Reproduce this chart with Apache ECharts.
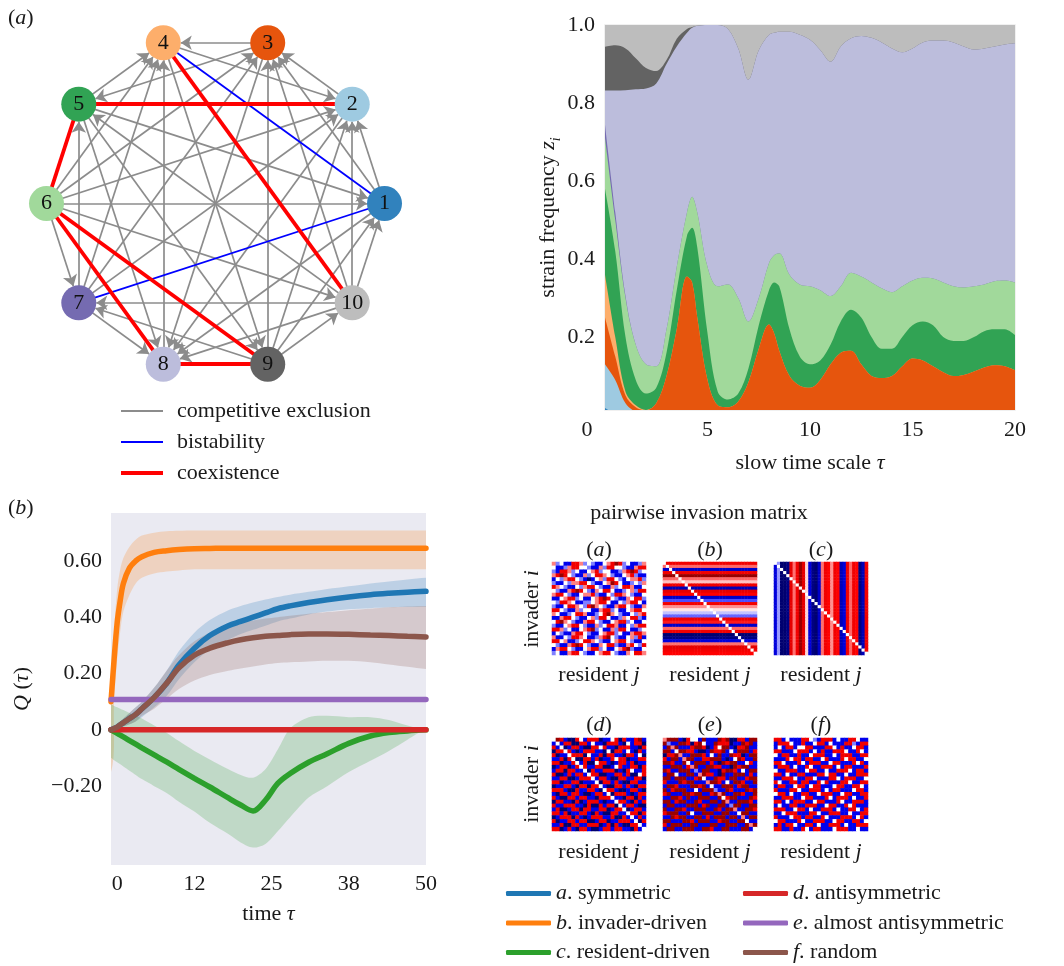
<!DOCTYPE html>
<html>
<head>
<meta charset="utf-8">
<title>Strain competition figure</title>
<script src="https://cdn.jsdelivr.net/npm/echarts@6.0.0/dist/echarts.min.js"></script>
<style>
html,body{margin:0;padding:0;background:#ffffff;}
#chart{width:1064px;height:966px;}
</style>
</head>
<body>
<div id="chart"></div>
<script>
// ================= DATA =================
// ---- panel (a) left: pairwise outcome network ----
const strainNames = ['1','2','3','4','5','6','7','8','9','10'];
const strainColors = ['#3182bd','#9ecae1','#e6550d','#fdae6b','#31a354','#a1d99b','#756bb1','#bcbddc','#636363','#bdbdbd'];
// competitive exclusion: [source, target], arrow head drawn at target
const exclusionEdges = [
  [1,2],[1,3],[5,1],[6,1],[1,8],[9,1],[10,1],
  [2,3],[4,2],[6,2],[7,2],[2,8],[9,2],[10,2],
  [3,4],[3,5],[6,3],[7,3],[3,8],[9,3],[10,3],
  [5,4],[6,4],[7,4],[8,4],[4,9],
  [7,5],[5,8],[5,9],[10,5],
  [6,10],[6,7],
  [7,8],[9,7],[10,7],
  [10,8],
  [9,10]
];
const bistabilityEdges = [[4,1],[7,1]];
const coexistenceEdges = [[5,2],[5,6],[4,10],[6,8],[6,9],[8,9]];
const networkLegend = ['competitive exclusion','bistability','coexistence'];

// ---- panel (a) right: strain frequencies, upper edge of each stacked band ----
const tauA = [0,0.5,1,1.5,2,2.5,3,3.5,4,4.25,4.5,5,5.5,6,6.5,7,7.5,8,8.25,8.5,9,9.5,10,10.5,11,11.5,12,12.5,13,13.5,14,14.5,15,15.5,16,16.5,17,17.5,18,18.5,19,19.5,20];
const topStrain1 = [0.018,0.004,0,0,0,0,0,0,0,0,0,0,0,0,0,0,0,0,0,0,0,0,0,0,0,0,0,0,0,0,0,0,0,0,0,0,0,0,0,0,0,0,0];
const topStrain2 = [0.13,0.09,0.03,0.008,0,0,0,0,0,0,0,0,0,0,0,0,0,0,0,0,0,0,0,0,0,0,0,0,0,0,0,0,0,0,0,0,0,0,0,0,0,0,0];
const topStrain3 = [0.25,0.15,0.05,0.02,0.012,0.03,0.1,0.22,0.355,0.34,0.25,0.09,0.025,0.02,0.035,0.085,0.17,0.232,0.21,0.165,0.1,0.075,0.07,0.09,0.13,0.16,0.165,0.13,0.1,0.095,0.1,0.125,0.145,0.14,0.125,0.11,0.1,0.103,0.112,0.122,0.128,0.125,0.115];
const topStrain4 = [0.36,0.2,0.06,0.025,0.013,0.03,0.1,0.22,0.355,0.34,0.25,0.09,0.025,0.02,0.035,0.085,0.17,0.232,0.21,0.165,0.1,0.075,0.07,0.09,0.13,0.16,0.165,0.13,0.1,0.095,0.1,0.125,0.145,0.14,0.125,0.11,0.1,0.103,0.112,0.122,0.128,0.125,0.115];
const topStrain5 = [0.58,0.42,0.2,0.09,0.055,0.07,0.16,0.32,0.46,0.48,0.43,0.21,0.06,0.04,0.055,0.12,0.23,0.32,0.34,0.33,0.22,0.15,0.13,0.14,0.18,0.24,0.27,0.25,0.2,0.17,0.17,0.2,0.23,0.24,0.23,0.2,0.19,0.19,0.2,0.215,0.22,0.22,0.205];
const topStrain6 = [0.71,0.5,0.3,0.18,0.13,0.125,0.22,0.38,0.52,0.56,0.52,0.38,0.33,0.335,0.3,0.24,0.3,0.39,0.41,0.415,0.36,0.335,0.33,0.32,0.305,0.33,0.365,0.355,0.34,0.325,0.315,0.33,0.345,0.352,0.35,0.34,0.33,0.327,0.33,0.335,0.343,0.345,0.34];
const topStrain7 = [0.745,0.52,0.305,0.18,0.13,0.125,0.22,0.38,0.52,0.56,0.52,0.38,0.33,0.335,0.3,0.24,0.3,0.39,0.41,0.415,0.36,0.335,0.33,0.32,0.305,0.33,0.365,0.355,0.34,0.325,0.315,0.33,0.345,0.352,0.35,0.34,0.33,0.327,0.33,0.335,0.343,0.345,0.34];
const topStrain8 = [0.832,0.832,0.833,0.835,0.837,0.85,0.9,0.945,0.98,0.993,0.998,1,1,0.99,0.94,0.86,0.935,0.975,0.98,0.983,0.983,0.975,0.962,0.936,0.906,0.945,0.966,0.972,0.967,0.955,0.94,0.93,0.94,0.955,0.96,0.96,0.955,0.945,0.937,0.94,0.945,0.95,0.953];
const topStrain9 = [0.944,0.948,0.94,0.915,0.89,0.882,0.91,0.965,0.99,0.995,0.998,1,1,0.99,0.94,0.86,0.935,0.975,0.98,0.983,0.983,0.975,0.962,0.936,0.906,0.945,0.966,0.972,0.967,0.955,0.94,0.93,0.94,0.955,0.96,0.96,0.955,0.945,0.937,0.94,0.945,0.95,0.953];
const topStrain10 = [1,1,1,1,1,1,1,1,1,1,1,1,1,1,1,1,1,1,1,1,1,1,1,1,1,1,1,1,1,1,1,1,1,1,1,1,1,1,1,1,1,1,1];
const freqYTicks = [0.2,0.4,0.6,0.8,1.0];

// ---- panel (b) left: Q(tau), mean and band per matrix type ----
const tauB = [-1,-0.5,0,0.5,1,2,3,4,6,8,10,12.5,15,18,20,22,24,26,28,31,34,37.5,41,44,47,50];
const qSymmetric    = [0,0.005,0.01,0.018,0.025,0.04,0.055,0.075,0.115,0.165,0.23,0.29,0.335,0.37,0.385,0.4,0.415,0.43,0.44,0.452,0.462,0.472,0.48,0.485,0.489,0.492];
const qSymmetricHi  = [0.005,0.01,0.02,0.03,0.04,0.06,0.08,0.1,0.15,0.21,0.28,0.345,0.39,0.425,0.44,0.452,0.463,0.472,0.48,0.49,0.5,0.51,0.52,0.527,0.534,0.54];
const qSymmetricLo  = [0,0,0.005,0.008,0.012,0.02,0.03,0.045,0.08,0.12,0.18,0.24,0.285,0.32,0.34,0.355,0.37,0.385,0.395,0.41,0.42,0.428,0.432,0.435,0.436,0.437];
const qInvader      = [0.1,0.25,0.38,0.46,0.52,0.575,0.6,0.615,0.63,0.636,0.64,0.643,0.644,0.645,0.645,0.645,0.645,0.645,0.645,0.645,0.645,0.645,0.645,0.645,0.645,0.645];
const qInvaderHi    = [0.13,0.35,0.5,0.57,0.61,0.65,0.675,0.69,0.7,0.705,0.707,0.708,0.708,0.708,0.708,0.708,0.708,0.708,0.708,0.708,0.708,0.708,0.708,0.708,0.708,0.708];
const qInvaderLo    = [-0.15,0.1,0.25,0.35,0.42,0.48,0.52,0.54,0.555,0.562,0.566,0.57,0.57,0.57,0.57,0.57,0.57,0.57,0.57,0.57,0.57,0.57,0.57,0.57,0.57,0.57];
const qResident     = [0,-0.006,-0.013,-0.019,-0.025,-0.038,-0.051,-0.064,-0.089,-0.114,-0.14,-0.172,-0.203,-0.242,-0.267,-0.288,-0.25,-0.19,-0.155,-0.115,-0.085,-0.048,-0.022,-0.01,-0.004,0];
const qResidentHi   = [0.09,0.085,0.08,0.075,0.07,0.06,0.05,0.04,0.015,-0.01,-0.04,-0.075,-0.105,-0.14,-0.16,-0.17,-0.14,-0.07,0.005,0.045,0.05,0.045,0.045,0.035,0.015,0];
const qResidentLo   = [-0.1,-0.108,-0.115,-0.122,-0.13,-0.145,-0.16,-0.175,-0.2,-0.224,-0.255,-0.29,-0.33,-0.37,-0.4,-0.418,-0.405,-0.36,-0.31,-0.24,-0.2,-0.15,-0.11,-0.075,-0.035,0];
const qAntisym      = [0,0,0,0,0,0,0,0,0,0,0,0,0,0,0,0,0,0,0,0,0,0,0,0,0,0];
const qAlmostAnti   = [0.108,0.108,0.108,0.108,0.108,0.108,0.108,0.108,0.108,0.108,0.108,0.108,0.108,0.108,0.108,0.108,0.108,0.108,0.108,0.108,0.108,0.108,0.108,0.108,0.108,0.108];
const qRandom       = [0,0.005,0.01,0.018,0.025,0.04,0.055,0.075,0.115,0.165,0.22,0.265,0.29,0.31,0.32,0.327,0.332,0.335,0.338,0.34,0.34,0.339,0.337,0.335,0.332,0.33];
const qRandomHi     = [0.005,0.01,0.02,0.03,0.04,0.06,0.08,0.1,0.15,0.21,0.265,0.315,0.345,0.37,0.38,0.388,0.395,0.4,0.405,0.412,0.418,0.425,0.43,0.435,0.438,0.44];
const qRandomLo     = [0,0,0.005,0.008,0.012,0.02,0.03,0.05,0.075,0.11,0.145,0.175,0.195,0.21,0.218,0.225,0.232,0.237,0.24,0.243,0.245,0.245,0.24,0.232,0.224,0.216];
const qSeriesNames  = ['a. symmetric','b. invader-driven','c. resident-driven','d. antisymmetric','e. almost antisymmetric','f. random'];
const qColors       = ['#1f77b4','#ff7f0e','#2ca02c','#d62728','#9467bd','#8c564b'];
const qXTickValues  = [0,12.5,25,37.5,50];
const qXTickLabels  = ['0','12','25','38','50'];
const qYTickValues  = [-0.2,0,0.2,0.4,0.6];
const qYTickLabels  = ['\u22120.20','0','0.20','0.40','0.60'];

// ---- panel (b) right: pairwise invasion matrices ----
// colour levels: B dark blue, b blue, l light blue, w white, p pink, r red, R dark red
const levelValues = {B:-0.9, b:-0.55, l:-0.25, w:0, p:0.25, r:0.55, R:0.9};
const invaderDrivenRows = [0.55,0.3,-0.65,0.55,0.9,0.3,0.12,0.55,-0.7,0.6,0.5,-0.65,-0.35,0.55,0.22,0.05,-0.12,-0.3,0.55,0.45,-0.65,0.3,0.55,-0.9,-0.85,-0.6,0.28,0.6,0.55,0.5];
const residentDrivenCols = [-0.6,-0.2,-0.9,-0.9,-0.85,0.6,0.28,0.55,0.9,0.6,0.08,-0.6,-0.85,-0.9,-0.65,0.28,0.55,0.5,0.22,0.55,0.5,-0.7,-0.6,0.55,0.3,0.55,0.5,-0.85,-0.7,0.55];
const matrixSymmetric = [
"plwbbrrplwlbbwprRrlwbblp","wbblprrwwlbbplrrwwlbbprr","lbrrplwbbwprlwwbblprRrlw","prRrwlbbplwrrpwlbbwprlbb",
"bwlprrwlbBbwplrrwlbwpprl","lbbwlpprrwlbbwpRrwbblwlp","rpwlbbwlprrwlbbplwrrpbbw","wlbbprRrwlbpwrrwbblwplrr",
"prrwlbbwpprlbbwlrrpwlbbw","bbwprrlwbbwprRrwlbbpwrrl","wlrrpwbbllwprrwbbwlprrwb","lbbwrrpwlrRpwlbbprrwlbbp",
"rrwlbbplwwbbprrlwbbwprrw","pwbblwrrpbblwrRpwlbbwlpr","bbprrwlbbwplrrwbblpwrrlb","wrRpwlbbprrwlbbwprrlwbbw",
"lbbwprrwlbbplwrrpbbwlprr","rrplwbbwprRlwbbplrrwbblw","bwlbbprrwlbbwprrlwbbprrp","pbbwlrrpwbblprRwlbbwplrb",
"rrwpbblwrrpwlbbwprrwlbbw","wlbbprRrwlbbpwrrlbbprwlr","bprrwlbbwprrlwbbwprRlbbw","lwbbprrwlbbwprrwlbbpwrrp"];
const matrixAntisymmetric = [
"wRrbBBrwbrrrBbbwrBrbbrRb","bwbrrBBrrbwbbBrrrbBwbrrB","rbwBbrrbBBrrwrbbBrrrbbBr","BrrwrbBbrrrbbBwBrrbwbBrb",
"rBbbwrrrBwbbrBrrbbBrrbwB","bbrBrwBBrrbrBbbrwrrBbbrr","rrBbbrwbrBBwrrbBbrrbrBbb","BbrrBbrwrbbrrBBbwrbbrrBr",
"brrBrrbbwBrbbrrrBbBrwbbr","rBBbrbrrbwrrBBbbrrbrBBwr","bbrrBBbrrrwbrrbBBrrbbrrB","rrBbbrrBbbbwBrrbrbBBrrbb",
"BbbrrbBrrBrrwbBBrrbrbBrr","rrrbBBrbbrrbBwrrbBBbrrbB","bBrrbrrbBBbrrbwBrrrbBbrr","rbBBrrbrrbbBrrrwbbBrrBrb",
"BrrbbBrBbrrrbBbbwrrbBrbr","rbbrrrbbBrBBrbrrBwbrrbBB","brBBbrrBrrbbrrBbrrwBbrrb","rrbrBbbrrbBrbBBrrbbwrrBr",
"BbrrrBrbBbrrrbbrBBrbwbrb","rBbbrrbrrBBbrrBbbrrrbwBr","bbrBBrrbbrrrBbrBrbBBrrwb","rrBbrbBrrbBBbrrbrrbbBrbw"];
const matrixAlmostAntisym = [
"pRRRbBrwwbRbbbRrRBBrrbRR","RlbbRRrBrRwbbRrrrBbbRrRb","bRpRbbbrRRrBbrwRRbBrrRbb","RRbwRRrrbBBbRrrRbwbRRRbr",
"BrrRpbbRRRrbwbRbbRrrBbRR","rbRRbpRRbbrrRRRbBbwRrbbR","RRrbbRwbRRRbrbBRrRRbbwrb","bbRRRbrpRbbRRrrbbBRrRRbb",
"RrbbRRRblbRRbbBrRRrbwbRR","bRRwbbRRbpRrrbBRbbRRRbrb","RRbRRRbbrRwbbRrrbRRbbrRR","rbbbRrRRbbbpRRrbwbRRrbbR",
"bRRrbbbRRrRbwbbRRRbrRRbb","RbrRRRbbwbRRRlbbRrbbbRrR","rRbbbRRrRRbbrRpRbbRRrbbR","bbRRrbRbbRRRbbRwrRRbbbRr",
"RRbrRRbbRrbbRRbRpbbRRRrb","bRRbbbRRRbrRbbRRblRRbbRR","RbbRRrbbRRRbbRrbRRpbbRRr","rRRRbbRwbbRRRbbRRbbwRRbb",
"bbRrRRbbRRbrbRRRbRRbpbRR","RRbbbRRrbRRRbbrRRbbRRwbb","rbRRRbbRRbbbRRbbRRRbbRpR","bRRbbRRRbbRRrbbRRbbbRRbw"];
const matrixRandom = [
"rrbwbbbrrwlbrrrbwbbrrwbb","brrrwbbrbbwrrbwbbbrrlbrr","bwbrrbwwrrbbbrrwbrbbwrrb","rrbbbwrrrbwbrbbrrrwbbrwb",
"wbrrbbrbbwrrrbbwbrrrbbrr","bbbrwrrbrrbbwrbbbrwrrbbw","rrwbbbrwbrrrbbwrrbbbrwrb","brrrbwbbrwbbrrrbwbrrbbbr",
"wbbrrrbbwrrbbwbbrrrwbrrb","rrbwbbrrbbbrrwrrbbwbbrrr","bbrrrwbbrrwbbbrrwbrrrbbw","rwbbrrbrrbbrwrbbbrrwbbrr",
"brrbbwrrbwrrbbbwrrbbrrwb","rbbbrrwbbrrrbwbrrbbbwrrb","wrrbwbbrrbbwrrrbbwrrbbrr","bbrrrbbwrrbbbrwbrrrbwbbr",
"rrbwbrrrbbwrrbbbrwbbrrrb","bwbbrrbbrrrbbwrrbbrwrbbb","rrrbbwrrbwbbrrrbwbbrrwbr","bbwrrrbbbrrwbbrrrbbwbbrr",
"rbbbwrrbrrbbrwbbbrrrbwrb","wrrbbbrwbbrrrbbwrrbbrrbw","brbrrwbbrrbwbbrrrbwbbrrr","rrbbrbbrwbrrbbbwrrrbbwbb"];
const matrixTitles = ['a','b','c','d','e','f'];

// ================= RENDERING =================
const FONT = '"Liberation Serif","Times New Roman","DejaVu Serif",serif';
const INK = '#1a1a1a';
const chart = echarts.init(document.getElementById('chart'), null, {renderer: 'canvas'});

const richItalic = {
  i: {fontStyle: 'italic', fontSize: 22, fontFamily: FONT, color: INK, fill: INK},
  n: {fontSize: 22, fontFamily: FONT, color: INK, fill: INK}
};
const richSub = {
  n: {fontSize: 22, fontFamily: FONT, color: INK, lineHeight: 30, verticalAlign: 'middle'},
  i: {fontStyle: 'italic', fontSize: 22, fontFamily: FONT, color: INK, lineHeight: 30, verticalAlign: 'middle'},
  s: {fontStyle: 'italic', fontSize: 14, fontFamily: FONT, color: INK, lineHeight: 14, verticalAlign: 'bottom'}
};

// ---- grids ----
const grids = [
  {left: 605, top: 25, width: 410, height: 385, show: true, borderColor: '#ececec', borderWidth: 1.5, backgroundColor: 'transparent'},
  {left: 111, top: 513, width: 315, height: 352, show: true, borderWidth: 0, backgroundColor: '#eaeaf2'}
];
const heatLefts = [552, 663, 774];
const heatTops = [562, 738];
for (let k = 0; k < 6; k++) {
  grids.push({left: heatLefts[k % 3], top: heatTops[Math.floor(k / 3)], width: 94, height: 93});
}

const labelStyle = {fontFamily: FONT, fontSize: 22, color: INK};
const xAxes = [
  {gridIndex: 0, type: 'value', min: 0, max: 20, interval: 5,
   axisLine: {show: false}, axisTick: {show: false}, splitLine: {show: false},
   axisLabel: Object.assign({}, labelStyle, {margin: 9,
     formatter: v => v === 0 ? '{z|0}' : String(v),
     rich: {z: {fontFamily: FONT, fontSize: 22, color: INK, padding: [0, 36, 0, 0]}}}),
   name: '{n|slow time scale }{i|\u03c4}', nameLocation: 'middle', nameGap: 42,
   nameTextStyle: {fontFamily: FONT, fontSize: 22, color: INK, rich: richItalic}},
  {gridIndex: 1, type: 'value', min: -1, max: 50,
   axisLine: {show: false}, axisTick: {show: false}, splitLine: {show: false},
   axisLabel: Object.assign({}, labelStyle, {margin: 8, customValues: qXTickValues,
     formatter: v => qXTickLabels[qXTickValues.indexOf(v)]}),
   name: '{n|time }{i|\u03c4}', nameLocation: 'middle', nameGap: 38,
   nameTextStyle: {fontFamily: FONT, fontSize: 22, color: INK, rich: richItalic}}
];
const yAxes = [
  {gridIndex: 0, type: 'value', min: 0.013, max: 1,
   axisLine: {show: false}, axisTick: {show: false}, splitLine: {show: false},
   axisLabel: Object.assign({}, labelStyle, {margin: 10, customValues: freqYTicks,
     formatter: v => v.toFixed(1)}),
   name: '{n|strain frequency }{i|z}{s|i}', nameLocation: 'middle', nameGap: 21,
   nameTextStyle: {fontFamily: FONT, fontSize: 22, color: INK, rich: richSub}},
  {gridIndex: 1, type: 'value', min: -0.48, max: 0.77,
   axisLine: {show: false}, axisTick: {show: false}, splitLine: {show: false},
   axisLabel: Object.assign({}, labelStyle, {margin: 9, customValues: qYTickValues,
     formatter: v => qYTickLabels[qYTickValues.indexOf(v)]}),
   name: '{i|Q}{n| (}{i|\u03c4}{n|)}', nameLocation: 'middle', nameGap: 78,
   nameTextStyle: {fontFamily: FONT, fontSize: 22, color: INK, rich: richItalic}}
];

// ---- heatmap matrices ----
function cellsFromRows(rows) {
  const n = rows.length;
  const out = [];
  rows.forEach((row, r) => {
    for (let c = 0; c < n; c++) out.push([c, r, levelValues[row[Math.min(c, row.length - 1)]]]);
  });
  return {cells: out, n: n};
}
function cellsFromRowVector(vals) {
  const out = [];
  for (let r = 0; r < vals.length; r++) for (let c = 0; c < vals.length; c++) out.push([c, r, r === c ? 0 : vals[r]]);
  return {cells: out, n: vals.length};
}
function cellsFromColVector(vals) {
  const out = [];
  for (let r = 0; r < vals.length; r++) for (let c = 0; c < vals.length; c++) out.push([c, r, r === c ? 0 : vals[c]]);
  return {cells: out, n: vals.length};
}
const matrices = [
  cellsFromRows(matrixSymmetric),
  cellsFromRowVector(invaderDrivenRows),
  cellsFromColVector(residentDrivenCols),
  cellsFromRows(matrixAntisymmetric),
  cellsFromRows(matrixAlmostAntisym),
  cellsFromRows(matrixRandom)
];
matrices.forEach((m, k) => {
  const cats = Array.from({length: m.n}, (_, i) => i);
  xAxes.push({gridIndex: 2 + k, type: 'category', data: cats, show: false});
  yAxes.push({gridIndex: 2 + k, type: 'category', data: cats, inverse: true, show: false});
});

// ---- series ----
const series = [];
// stacked strain frequencies (upper edges painted from top band to bottom band)
const topStrains = [topStrain1, topStrain2, topStrain3, topStrain4, topStrain5, topStrain6, topStrain7, topStrain8, topStrain9, topStrain10];
for (let k = 9; k >= 0; k--) {
  series.push({
    type: 'line', name: 'strain ' + strainNames[k], xAxisIndex: 0, yAxisIndex: 0,
    data: tauA.map((t, i) => [t, topStrains[k][i]]),
    smooth: 0.35, symbol: 'none', silent: true,
    lineStyle: {width: 0, opacity: 0},
    areaStyle: {color: strainColors[k], opacity: 1}
  });
}
// Q(tau) spread bands, drawn as polygons through the axis scales
function band(lo, hi, color) {
  series.push({
    type: 'custom', xAxisIndex: 1, yAxisIndex: 1, silent: true, clip: true,
    data: [[tauB[0], lo[0]]],
    renderItem: function (params, api) {
      const last = tauB.length - 1;
      const up = [api.coord([tauB[0] - 3, hi[0]])];
      tauB.forEach((t, i) => up.push(api.coord([t, hi[i]])));
      up.push(api.coord([tauB[last] + 3, hi[last]]));
      const dn = [api.coord([tauB[last] + 3, lo[last]])];
      for (let i = last; i >= 0; i--) dn.push(api.coord([tauB[i], lo[i]]));
      dn.push(api.coord([tauB[0] - 3, lo[0]]));
      return {type: 'polygon', shape: {points: up.concat(dn), smooth: 0.3},
        style: {fill: color, opacity: 0.22}};
    }
  });
}
band(qSymmetricLo, qSymmetricHi, qColors[0]);
band(qInvaderLo, qInvaderHi, qColors[1]);
band(qResidentLo, qResidentHi, qColors[2]);
band(qRandomLo, qRandomHi, qColors[5]);
// Q(tau) mean lines
const qMeans = [qSymmetric, qInvader, qResident, qAntisym, qAlmostAnti, qRandom];
qMeans.forEach((vals, k) => {
  series.push({
    type: 'line', name: qSeriesNames[k], xAxisIndex: 1, yAxisIndex: 1,
    data: tauB.map((t, i) => [t, vals[i]]), smooth: 0.35, symbol: 'none', silent: true,
    color: qColors[k],
    lineStyle: {width: 5.5, color: qColors[k], cap: 'round'}
  });
});
// network
const nodes = strainNames.map((n, i) => ({name: n, value: [1, i], itemStyle: {color: strainColors[i]}}));
const links = [];
exclusionEdges.forEach(([s, t]) => links.push({source: String(s), target: String(t)}));
bistabilityEdges.forEach(([s, t]) => links.push({source: String(s), target: String(t), symbol: ['none', 'none'],
  lineStyle: {color: '#0000ff', width: 1.8}}));
coexistenceEdges.forEach(([s, t]) => links.push({source: String(s), target: String(t), symbol: ['none', 'none'],
  lineStyle: {color: '#ff0000', width: 3.8}}));
series.push({
  type: 'graph', coordinateSystem: 'polar', polarIndex: 0, layout: 'none', silent: true,
  symbol: 'circle', symbolSize: 35, roam: false,
  data: nodes, links: links,
  edgeSymbol: ['none', 'arrow'], edgeSymbolSize: [4, 11],
  lineStyle: {color: '#8c8c8c', width: 1.7, opacity: 1, curveness: 0},
  label: {show: true, position: 'inside', fontFamily: FONT, fontSize: 22, color: '#111'},
  emphasis: {disabled: true}
});
// heatmaps
const heatIndices = [];
matrices.forEach((m, k) => {
  heatIndices.push(series.length);
  series.push({
    type: 'heatmap', xAxisIndex: 2 + k, yAxisIndex: 2 + k, data: m.cells, silent: true,
    itemStyle: {borderWidth: 0}, emphasis: {disabled: true}
  });
});

// ---- free text, panel letters, network legend ----
function text(x, y, str, opt) {
  opt = opt || {};
  return {type: 'text', x: x, y: y, rotation: opt.rotation || 0, silent: true,
    style: {text: str, fill: INK, fontFamily: FONT, fontSize: opt.size || 22,
      align: opt.align || 'left', verticalAlign: 'middle', rich: richItalic}};
}
const graphics = [];
graphics.push(text(8, 18, '{n|(}{i|a}{n|)}'));
graphics.push(text(8, 508, '{n|(}{i|b}{n|)}'));
const legendColors = ['#8c8c8c', '#0000ff', '#ff0000'];
const legendWidths = [2, 2, 4];
networkLegend.forEach((lab, k) => {
  const y = 411 + k * 31;
  graphics.push({type: 'line', silent: true, shape: {x1: 121, y1: y, x2: 163, y2: y},
    style: {stroke: legendColors[k], lineWidth: legendWidths[k]}});
  graphics.push(text(177, y, lab));
});
graphics.push(text(699, 513, 'pairwise invasion matrix', {align: 'center'}));
matrixTitles.forEach((t, k) => {
  const cx = heatLefts[k % 3] + 47;
  const row = Math.floor(k / 3);
  graphics.push(text(cx, row === 0 ? 550 : 725, '{n|(}{i|' + t + '}{n|)}', {align: 'center'}));
  graphics.push(text(cx, row === 0 ? 675 : 852, '{n|resident }{i|j}', {align: 'center'}));
});
graphics.push(text(532, 609, '{n|invader }{i|i}', {align: 'center', rotation: Math.PI / 2}));
graphics.push(text(532, 784, '{n|invader }{i|i}', {align: 'center', rotation: Math.PI / 2}));

const legendText = {fontFamily: FONT, fontSize: 22, color: INK, lineHeight: 23,
  rich: {i: {fontStyle: 'italic', fontFamily: FONT, fontSize: 22, color: INK, lineHeight: 23},
         n: {fontFamily: FONT, fontSize: 22, color: INK, lineHeight: 23}}};
const legendFmt = name => '{i|' + name.charAt(0) + '}{n|' + name.slice(1) + '}';

chart.setOption({
  animation: false,
  backgroundColor: '#ffffff',
  grid: grids,
  xAxis: xAxes,
  yAxis: yAxes,
  polar: {center: [215.5, 203.5], radius: 169},
  angleAxis: {type: 'category', data: strainNames, startAngle: 0, clockwise: false, boundaryGap: false, show: false},
  radiusAxis: {type: 'value', min: 0, max: 1, show: false},
  visualMap: {type: 'continuous', show: false, min: -1, max: 1, seriesIndex: heatIndices, dimension: 2,
    inRange: {color: ['#00004c', '#0000ff', '#ffffff', '#ff0000', '#800000']}},
  legend: [
    {orient: 'vertical', left: 506, top: 882, padding: 0, itemWidth: 45, itemHeight: 5, itemGap: 6.5, icon: 'roundRect',
     data: qSeriesNames.slice(0, 3), textStyle: legendText, formatter: legendFmt, selectedMode: false},
    {orient: 'vertical', left: 743, top: 882, padding: 0, itemWidth: 45, itemHeight: 5, itemGap: 6.5, icon: 'roundRect',
     data: qSeriesNames.slice(3), textStyle: legendText, formatter: legendFmt, selectedMode: false}
  ],
  graphic: graphics,
  series: series
});
</script>
</body>
</html>
